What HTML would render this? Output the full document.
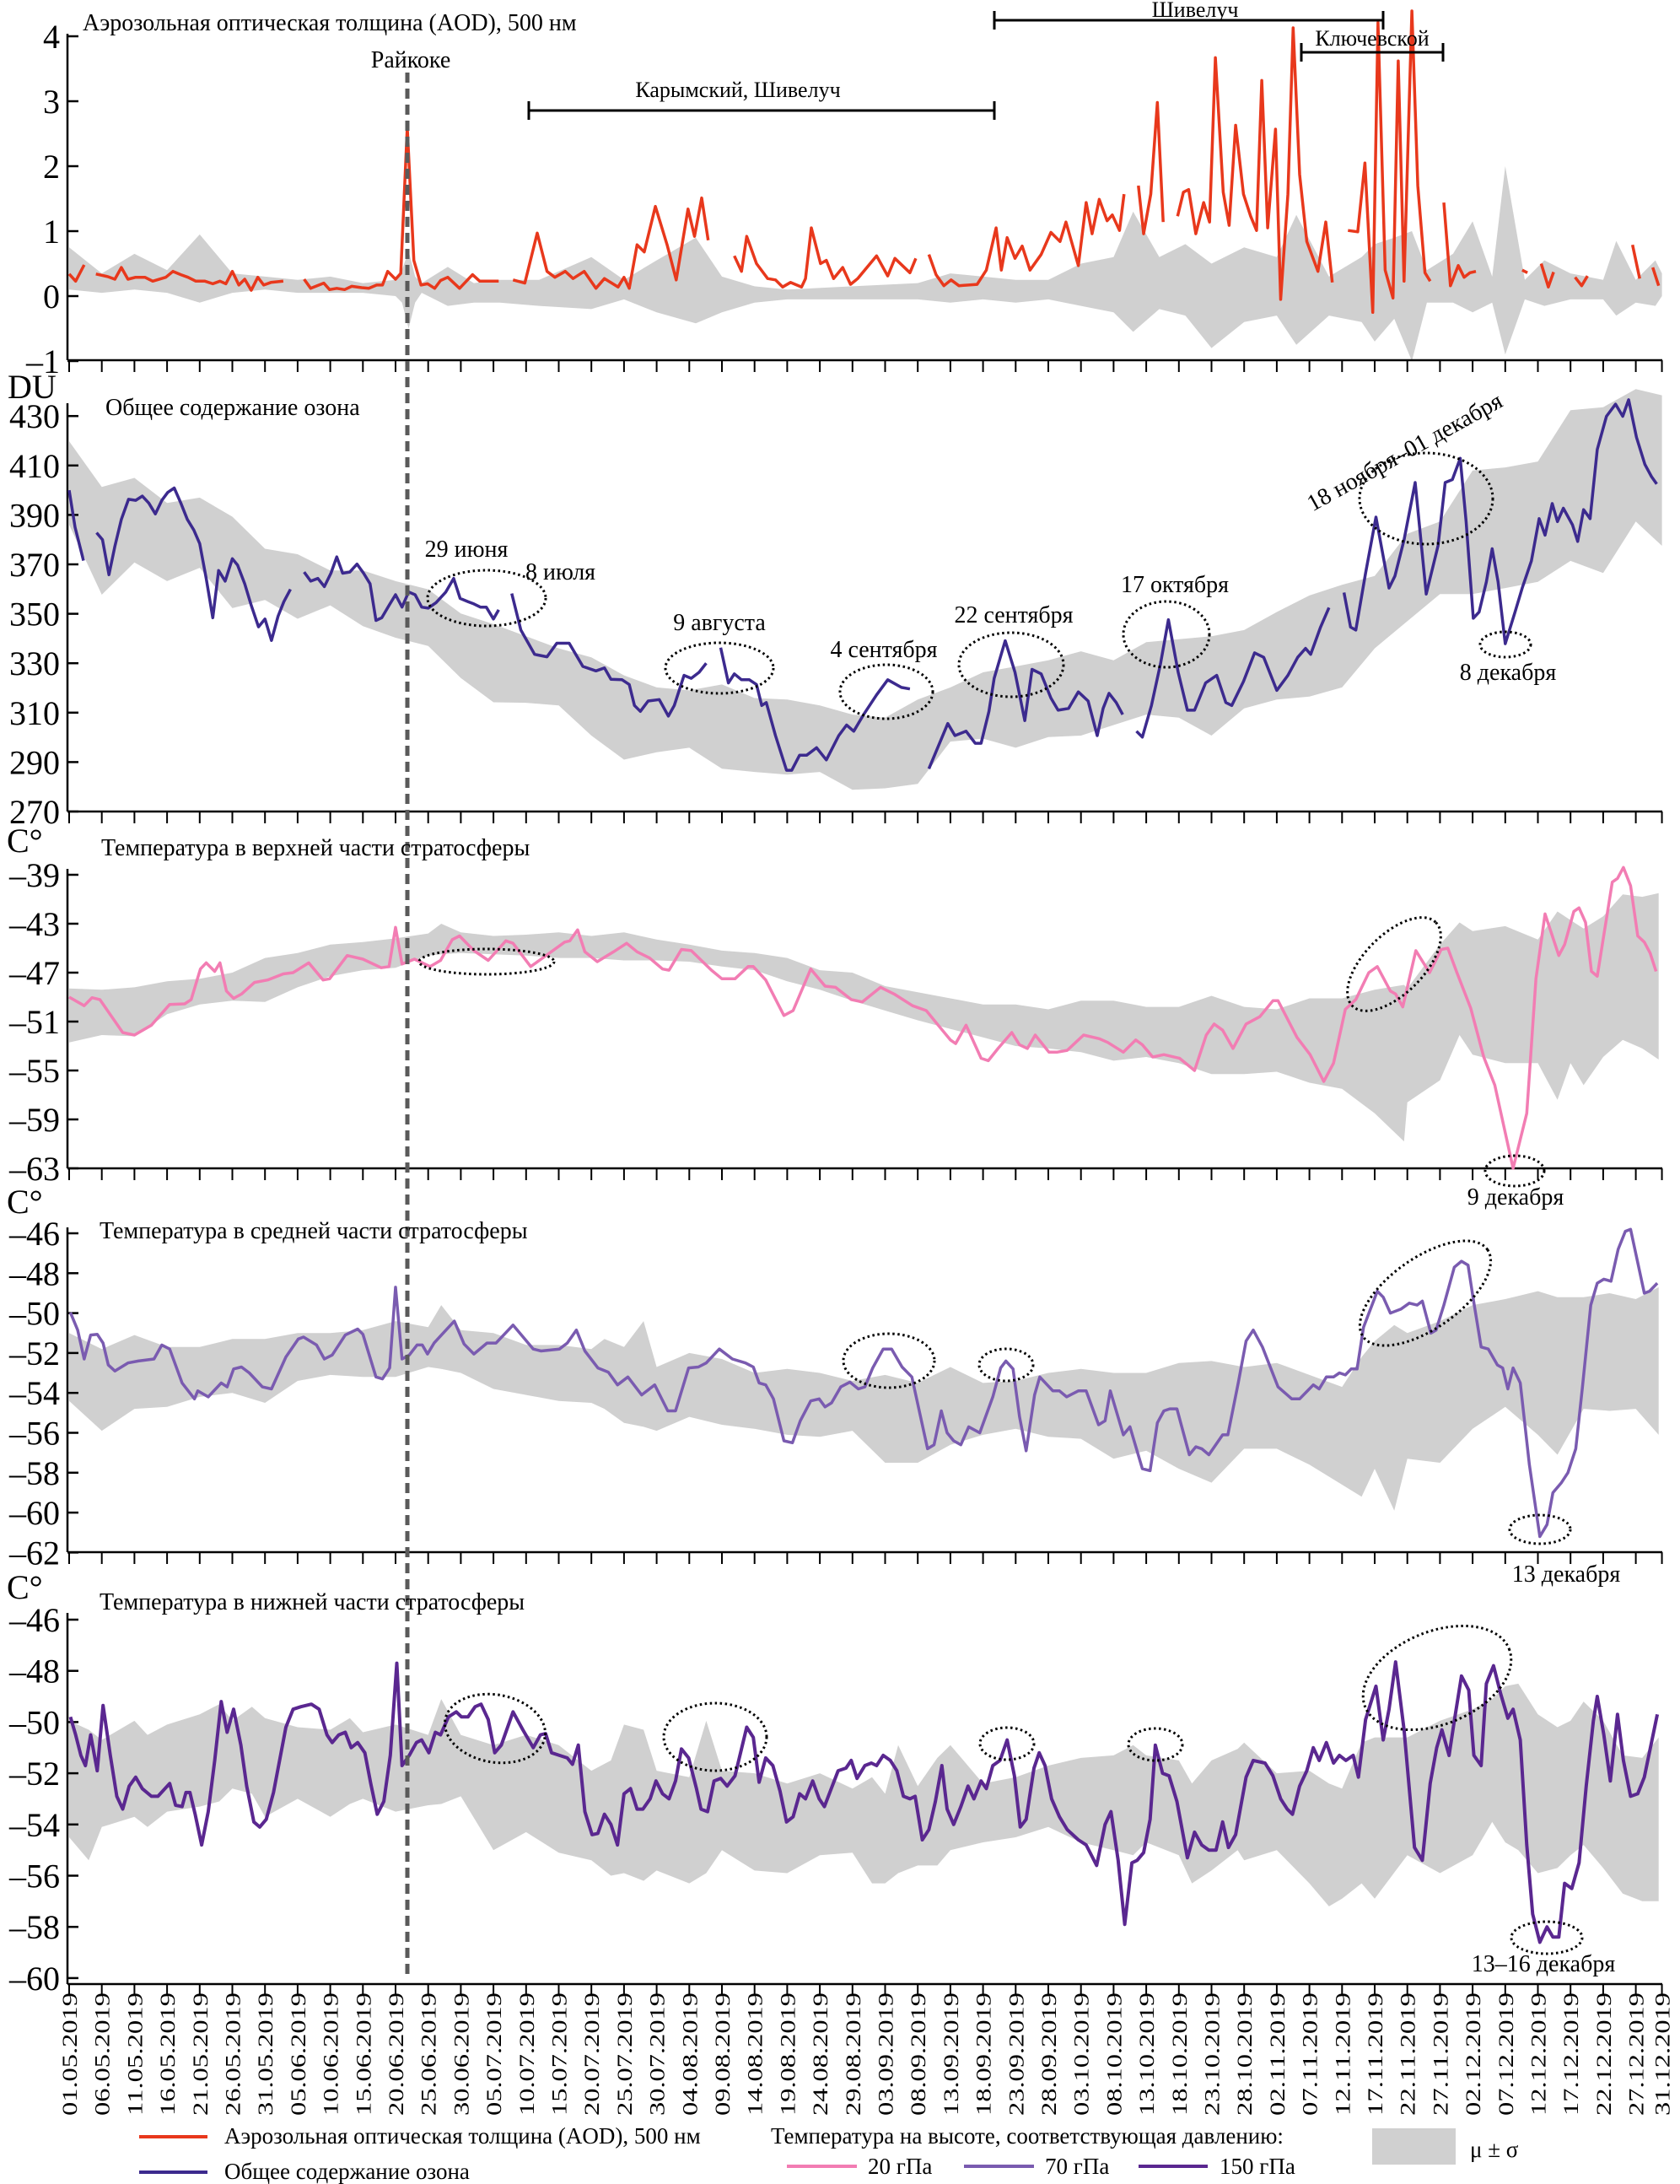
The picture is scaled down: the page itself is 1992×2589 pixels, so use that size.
<!DOCTYPE html>
<html><head><meta charset="utf-8">
<style>
html,body{margin:0;padding:0;background:#fff;}
svg{display:block;font-family:"Liberation Serif","DejaVu Serif",serif;}
</style></head>
<body>
<svg id="chart" width="1992" height="2589" viewBox="0 0 1992 2589" xmlns="http://www.w3.org/2000/svg">
<g id="bands"></g>
<g id="axes"></g>
<g id="series"></g>
<g id="annot"></g>
</svg>
<script>
// ---------- DATA ----------
const aodDays=[0,1,2.3,3,4.1,5.9,7,8,9,10.2,11.6,12.8,14.8,15.9,17.1,18.2,19.4,20.8,22,23.1,24,25,26,26.9,27.9,28.9,29.8,30.9,32.8,34,36,37,39,39.9,41,42.2,43.3,44.8,45.9,47.1,48,48.8,50,50.8,51.8,52.8,53.9,54.9,56,56.9,58,59.8,61.8,62.9,64.4,65.8,67,68,69.8,71.7,73.2,74.4,76,77.2,78.9,80.7,82,84.1,85,85.8,87,88.1,89.8,91.6,93,94.8,95.8,96.9,97.9,99,101.9,103,103.8,105.3,107,108.2,109.3,110.5,112.2,112.8,113.7,115.1,116,117.1,118.5,119.7,120.8,123.7,125.4,126.5,128.8,129.7,130.5,131.7,132.8,134,135.1,136.3,139.1,140.5,142,142.8,143.7,144.9,146,147.2,148.9,150.4,151.8,152.7,154.6,155.8,156.7,157.8,159,159.8,160.9,161.6,162.5,163.8,164.6,165.7,166.7,167.6,168.5,169.8,170.7,171.5,172.6,173.8,174.7,175.6,176.8,177.7,178.7,179.9,181,181.9,182.7,183.6,184.8,185.6,186.7,187.5,188.5,189.6,191.3,192.5,193.5,194.5,195.9,197.4,198.5,199.7,200.5,201.6,202.8,203.6,204.5,205.7,206.6,207.7,208.5,209.5,210.6,211.6,212.8,213.7,214.6,215.5,216.5,222.6,223.4,224.5,225.5,226.6,227.4,228.5,230.7,231.7,232.6,234,239.5,240.6,241.5,242.6,243.5];
const aodValues=[.34,.23,.48,null,.34,.30,.26,.44,.26,.29,.29,.23,.29,.38,.33,.29,.23,.23,.19,.23,.19,.38,.17,.26,.09,.29,.17,.21,.23,null,.26,.12,.2,.1,.12,.1,.15,.13,.12,.17,.17,.38,.26,.35,2.6,.55,.17,.19,.12,.24,.29,.12,.33,.23,.23,.23,null,.25,.2,.97,.38,.29,.38,.27,.38,.12,.27,.14,.29,.12,.79,.68,1.38,.79,.25,1.34,.92,1.51,.86,null,.62,.38,.92,.5,.27,.25,.14,.21,.14,.27,1.05,.5,.55,.27,.44,.18,.27,.62,.31,.58,.36,.58,null,.64,.33,.16,.25,.16,.18,.4,1.05,.4,.9,.58,.77,.4,.64,.98,.84,1.14,.47,1.44,.96,1.49,1.16,1.25,1.01,1.57,null,1.7,.96,1.57,2.98,1.14,null,1.23,1.6,1.64,.96,1.44,1.14,3.67,1.6,1.09,2.63,1.57,1.23,1.01,3.32,1.05,2.57,-.05,1.57,4.13,1.87,.84,.38,1.14,.21,null,1.01,.99,2.05,-.25,4.21,.4,-.03,3.62,.23,4.39,1.7,.36,.23,null,1.44,.16,.47,.29,.36,.38,null,.4,.36,null,.5,.14,.37,null,.29,.16,.31,null,.79,.27,null,.44,.16];
const aodBandDays=[0,5,10,15,20,25,30,35,40,45,50,51,52,53,54,58,62,66,72,80,85,90,96,100,105,110,120,130,135,140,145,150,155,160,163,167,171,175,180,185,188,193,198,200,203,205.7,208,212,215,218,220,223,226,230,235,237,240,243,244];
const aodUpper=[.75,.35,.65,.4,.95,.35,.3,.25,.3,.2,.25,.4,.7,.3,.2,.45,.2,.25,.25,.6,.25,.55,.9,.3,.15,.1,.15,.2,.35,.3,.25,.25,.5,.6,1.3,.6,.8,.5,.75,.6,1.25,.3,.6,.8,.9,1.0,.4,.65,1.15,.3,2.0,.25,.55,.35,.25,.85,.25,.55,.35];
const aodLower=[.1,.05,.1,.05,-.1,.05,.1,.05,.05,.05,0,-.1,-.5,-.1,.05,-.15,-.1,-.1,-.15,-.2,-.05,-.25,-.42,-.25,-.1,-.05,-.05,-.05,-.1,-.05,-.1,-.05,-.15,-.25,-.55,-.2,-.3,-.8,-.4,-.3,-.75,-.3,-.4,-.7,-.35,-1.0,-.1,-.1,-.25,-.1,-.9,-.05,-.15,-.05,-.05,-.3,-.1,-.15,0];

const ozoneDays=[0,0.9,2.2,3,4.2,5.1,6.1,7,8,9.1,10.2,11.2,12.2,13.2,14.2,15.1,16.1,17.1,18.1,19.1,20,21,22,22.9,23.9,25,25.8,26.9,27.9,29,30,31,32,32.9,33.9,35,36,37,38.1,39.1,40.1,41,41.9,43,44.1,45.1,46.1,47,47.9,49,50,51,52,53,54,55,56.2,57.7,58.9,59.9,61.1,62,63,63.9,65,65.8,66.8,67.8,69.2,71.3,73.2,74.7,76.6,78.7,80.7,82,83,84.7,85.8,86.6,87.5,88.7,90.4,91.8,92.7,94.2,95.3,96.5,97.6,98.5,99.8,101,101.9,103,104.2,105.3,106.1,106.8,108.2,109.9,110.7,111.9,113,114.5,116,117.9,119.1,120.2,121.7,123.7,125.4,127.5,128.8,130,131.7,134.6,135.7,137.4,138.8,139.7,140.9,141.7,143.4,144.9,146.4,147.5,148.9,150.4,151.5,153.1,154.6,156.1,157.5,158.4,159.3,160.4,161.4,162.5,163.5,164.4,165.8,167.2,168.4,169.9,171.3,172.4,174.1,175.8,177.2,178.1,179.9,181.6,183,185,186.7,188.2,189.4,190.2,191.7,193,194,195.3,196.3,197.1,198.6,200.2,202.2,203.1,204.5,206.2,207.9,209.7,210.8,211.9,213.1,214,215.1,216,217.1,218,218.9,220,221.5,222.6,224,225.2,226.1,227.2,228,228.9,230.3,231.1,232,233,234.1,235.5,236.9,238,238.9,240.1,241.4,242.4,243.2];
const ozoneValues=[400,385,371.5,null,382.8,380,365.8,377.3,388.2,396.3,395.9,397.6,394.8,390.4,395.9,399.1,400.9,394.8,388.2,383.9,378.4,364.3,348.4,367.5,363.2,372.3,369.7,362.1,353.4,344.7,347.9,339.2,349,354.9,359.9,null,366.9,363.2,364.3,361,366.4,373,366.4,366.9,370.1,366.4,362.1,347.3,348.4,353.4,357.7,352.7,358.8,357.7,352.7,352.3,354.5,358.8,364.3,356.2,354.9,354,352.7,352.7,347.9,351.6,null,358.2,343.4,333.6,332.6,338.1,338.1,328.7,326.9,328.1,323.5,323.3,321.4,312.9,310.5,314.7,315.3,308.6,312.9,325.1,323.9,326.3,330,null,336.3,322,325.7,323.3,323.3,321.4,312.9,314.1,300.7,286.7,286.7,292.8,292.8,295.8,290.9,300.7,305,302.5,309.2,317.2,323.3,320.2,319.6,null,287.3,305.6,300.7,302.5,297.6,297.6,310.5,323.9,339.1,326.3,306.8,327.5,325.7,315.9,311,311.7,318.4,314.7,300.7,311.7,317.8,314.1,309.2,null,302.5,300.1,312.9,329.9,347.6,326.3,311,311,322,325.1,314.1,312.9,322.6,334.2,332.4,319,325.1,332.4,336,333.6,344.6,352.5,null,358.6,344.6,343.4,366.5,389.1,360.4,365.3,379.9,403.1,358,377.5,403.1,404.3,412.9,387.3,348.2,350.7,362.9,376.3,362.9,337.9,350.7,360.4,371.4,388.5,381.8,394.6,387.3,392.7,386,379.3,392.1,388.5,416.5,429.9,434.8,429.9,436.6,421.4,410.4,405.5,402.5];
const ozoneBandDays=[0,5,10,15,20,25,30,35,40,45,50,55,60,65,70,75,80,85,90,95,100,105,110,115,120,125,130,135,140,145,150,155,160,165,170,175,180,185,190,195,200,205,210,215,220,225,230,235,240,244];
const ozoneUpper=[419.8,401.3,405,394.8,397,389.3,376.3,374.1,367.5,367.5,363.2,359.9,350.1,345.8,340.9,336,332.4,325.1,320.2,319,321.4,315.9,315.3,312.9,309.2,308,315.3,320.2,326.3,328.7,331.2,334.8,331.2,338.5,339.7,340.9,343.4,350.7,357.4,361.7,365.3,382.4,387.3,408,409.2,411.6,432.4,433.6,440.9,438.4];
const ozoneLower=[386,357.7,370.8,363.2,368.6,352.3,355.6,348,353.4,345,340.3,337,324,314.2,314,312.9,300.7,291,294,295.8,287.3,286,284.9,286,278.8,279.4,281.2,298.3,299.5,295.8,300.1,300.7,305,309.2,308,300.7,311.7,315.3,316.5,320.2,336,347,358,358,360.4,362.9,371.4,366.5,387.3,377.5];

const t20Days=[0,2.3,3.5,4.7,8.2,10,12.6,15.4,17.7,18.7,20.1,21,22.3,23.1,24.1,25.2,26.4,28.4,30.4,32.8,34.3,36.7,38.9,39.9,42.6,45,47.8,49,50,51,52.9,55.3,56.9,58.7,59.8,62,64.2,66.9,68,70.7,72.3,75.9,76.7,77.9,79,80.9,83.4,85.4,87,88.9,90.9,91.9,93.8,95.3,98.4,100,102,104,104.8,106.7,109.5,110.9,113.6,115.8,117.4,119.8,121.5,124.3,126.4,129.2,131.3,133.3,135,135.8,137.4,139.7,140.8,142.3,144.4,145.6,146.8,148,150.1,151.3,152.9,155.4,157.8,159.1,161.5,163.4,164.4,166,167.7,170.1,172.4,174.2,175.4,176.7,178.3,180.3,182.4,184.4,185.2,188.1,190.1,192.2,193.7,195.5,197.1,199.1,200.4,202.4,203.2,204.3,206.3,208.4,210.2,211.2,212.6,214.7,216.7,218.4,221.2,223.3,224.7,226.1,228.2,229.1,230.5,231.3,232.3,233.2,234.1,236.4,237.2,238.1,239.2,240.3,241.3,242.2,243.1];
const t20Values=[-49,-49.7,-49.05,-49.2,-51.9,-52.1,-51.3,-49.6,-49.55,-49.2,-46.7,-46.2,-46.9,-46.2,-48.5,-49.1,-48.75,-47.8,-47.6,-47.1,-47,-46.2,-47.6,-47.5,-45.6,-45.9,-46.6,-46.5,-43.3,-46.3,-45.9,-46.5,-46,-44.3,-44,-45.2,-46,-44.4,-44.6,-46.5,-45.9,-44.5,-44.4,-43.5,-45.3,-46.1,-45.3,-44.6,-45.3,-45.8,-46.7,-46.8,-45.1,-45.2,-46.8,-47.5,-47.5,-46.5,-46.5,-47.6,-50.5,-50.1,-46.7,-48.1,-48.2,-49.2,-49.4,-48.2,-48.75,-49.7,-50.1,-51.4,-52.5,-52.8,-51.3,-54,-54.2,-53.2,-51.9,-52.9,-53.2,-52.1,-53.5,-53.5,-53.35,-52.1,-52.4,-52.7,-53.5,-52.5,-52.9,-53.9,-53.7,-54,-55,-52.1,-51.2,-51.7,-53.2,-51.2,-50.6,-49.3,-49.3,-52.3,-53.7,-55.9,-54.4,-50,-49.2,-47,-46.5,-48.5,-48.75,-49.8,-45.2,-47,-45.1,-45,-47,-49.9,-53.9,-56.2,-63,-58.5,-47.5,-42.2,-45.6,-44.7,-42,-41.7,-42.9,-46.9,-47.3,-39.6,-39.3,-38.4,-39.9,-44,-44.5,-45.4,-46.9];
const t20BandDays=[0,5,10,15,20,25,30,35,40,45,50,55,57,60,65,70,75,80,85,90,95,100,105,110,115,120,125,130,135,140,145,150,155,160,165,170,175,180,185,190,195,200,204.5,205,210,213,215,220,225,228,230,232,235,238,241,243.5];
const t20Upper=[-48.3,-48.4,-48.2,-47.7,-47.5,-47,-45.8,-45.4,-44.7,-44.5,-44.2,-43.8,-43,-43.7,-44,-43.9,-43.7,-44,-43.7,-44.3,-44.7,-45.2,-45.4,-45.8,-46.8,-47,-48.1,-48.6,-49.1,-49.6,-49.6,-50,-49.3,-49.3,-49.8,-49.8,-48.9,-49.8,-50,-49.1,-49.1,-48.4,-48,-48.3,-44.7,-42.9,-43.6,-43.2,-44.3,-42,-42.7,-43.4,-42.4,-40.6,-40.8,-40.5];
const t20Lower=[-52.7,-52.1,-52.2,-50.4,-49.6,-49.3,-49.4,-48.2,-47.3,-46.8,-46.6,-45.6,-45.5,-45.4,-45.5,-45.6,-45.8,-45.8,-46,-46,-46.1,-46.5,-46.8,-47.7,-48.4,-49.3,-50.1,-50.9,-51.6,-52.3,-53,-53.2,-53.5,-54.2,-53.9,-54.4,-55.3,-55.3,-55.1,-56,-56.5,-58.5,-60.8,-57.6,-55.8,-52.1,-53.7,-54.4,-54.4,-57.4,-54.4,-56.2,-53.9,-52.5,-53.2,-54.1];

const t70Days=[0.2,1.3,2.3,3.3,4.3,5.2,6,7,9,10.6,13,14.2,15.4,17.3,19.2,19.7,21.3,23.3,24.2,25.2,26.4,27.6,29.6,31,33.2,35.1,35.9,37.9,39.1,40.3,42.3,44.2,45,47,48,49.1,50,51,52.1,53.3,54.1,54.9,55.9,57.3,59,60.5,62,64,65.4,68,71.1,72.3,75.1,76.3,77.7,79,81,82.6,84,85.6,87.7,89.7,91.7,92.9,94.9,96.4,97.6,99.6,101.6,103.6,104.8,105.7,106.7,107.9,109.5,110.8,112,113.6,114.9,115.8,116.8,118.2,119.6,120.9,121.9,123.1,124.7,126,127.6,129.1,131.5,132.5,133.6,134.5,135.5,136.6,137.8,139.5,141.5,142.7,143.5,144.6,145.6,146.6,147.9,148.7,150.7,151.7,152.8,154.6,155.8,157.7,158.7,159.5,161.5,162.5,164.4,165.6,166.7,167.7,168.6,169.7,171.6,172.6,173.5,174.6,176.7,177.5,179.1,180.3,181.4,182.8,185.2,187.3,188.5,190.6,191.5,192.6,193.7,194.6,195.5,196.4,197.3,198.3,200.4,201.3,202.4,204,205.3,206.5,207.3,208.6,209.4,210.6,212.2,213.3,214.3,215.1,216.3,217.4,218.8,219.6,220.4,221.2,222.3,223.7,225.3,226.4,227.3,228.6,229.6,230.8,231.8,233.1,234.1,235.1,236.2,237.3,238.4,239.2,241.3,242.1,243.3];
const t70Values=[-49.97,-50.85,-52.3,-51.1,-51.06,-51.5,-52.6,-52.9,-52.5,-52.4,-52.3,-51.6,-51.8,-53.5,-54.3,-53.9,-54.2,-53.5,-53.7,-52.8,-52.7,-53,-53.7,-53.8,-52.2,-51.3,-51.2,-51.6,-52.3,-52.1,-51.1,-50.8,-51.06,-53.2,-53.3,-52.75,-48.7,-52.3,-52.1,-51.6,-51.6,-52.05,-51.5,-51,-50.4,-51.55,-52.05,-51.5,-51.5,-50.6,-51.8,-51.9,-51.8,-51.5,-50.85,-51.9,-52.75,-52.96,-53.6,-53.2,-54.1,-53.6,-54.9,-54.9,-52.75,-52.7,-52.5,-51.8,-52.3,-52.5,-52.7,-53.5,-53.6,-54.3,-56.4,-56.5,-55.4,-54.4,-54.3,-54.7,-54.5,-53.7,-53.46,-53.8,-53.7,-52.75,-51.8,-51.8,-52.7,-53.2,-56.8,-56.6,-54.9,-56,-56.4,-56.6,-55.7,-56,-54.2,-52.75,-52.4,-52.8,-55.2,-56.9,-54.1,-53.2,-53.9,-53.9,-54.2,-53.9,-53.9,-55.6,-55.4,-53.9,-56.1,-55.7,-57.8,-57.9,-55.5,-54.9,-54.8,-54.8,-57.1,-56.7,-56.8,-57.1,-56.1,-56.1,-53.5,-51.4,-50.85,-51.7,-53.7,-54.3,-54.3,-53.6,-53.8,-53.2,-53.2,-53,-53.1,-52.8,-52.8,-50.7,-48.9,-49.2,-50,-49.8,-49.5,-49.6,-49.4,-51,-50.85,-49.6,-47.7,-47.4,-47.6,-49.3,-51.7,-51.8,-52.6,-52.75,-53.8,-52.75,-53.5,-57.6,-61.2,-60.6,-59,-58.5,-58,-56.8,-53.8,-49.6,-48.5,-48.3,-48.4,-46.8,-45.9,-45.8,-49,-48.9,-48.5];
const t70BandDays=[0,5,10,15,20,25,30,35,40,45,50,55,57,60,65,70,75,80,82,85,88,90,95,100,105,110,115,120,125,130,135,140,145,150,155,160,165,170,175,180,185,190,195,198,200,203,205,210,215,220,225,228,232,236,240,243.5];
const t70Upper=[-51,-51.8,-51.1,-51.7,-51.7,-51.3,-51.3,-51,-51,-50.85,-50.4,-50.7,-49.6,-50.85,-51,-51.6,-51.6,-51.8,-51.3,-51.7,-50.4,-52.7,-52,-52.3,-53,-52.8,-53,-53.4,-53.1,-53.5,-52.7,-53.5,-53.4,-53,-52.8,-53,-53,-52.5,-52.4,-52.7,-52.5,-53.1,-53.7,-52.2,-51.4,-50.6,-51,-50.4,-49.6,-49.3,-48.9,-49.2,-49.2,-49,-49.3,-48.7];
const t70Lower=[-54.4,-55.9,-54.8,-54.7,-54.2,-54,-54.5,-53.4,-53.1,-53.2,-53.2,-52.7,-52.8,-53,-53.8,-54.1,-54.4,-54.5,-54.8,-55.5,-55.7,-55.9,-55.2,-55.6,-55.8,-56.1,-56.2,-55.9,-57.5,-57.5,-56.6,-56.1,-55.8,-56.2,-56.3,-57.3,-56.9,-57.8,-58.5,-56.8,-56.8,-57.6,-58.6,-59.2,-57.8,-59.9,-57.3,-57.5,-55.8,-54.7,-56.1,-57.1,-54.8,-54.9,-54.8,-56.1];

const t150Days=[0.2,1,1.8,2.5,3.3,4.3,5.2,6.3,7.3,8.2,9.2,10.2,11.2,12.6,13.6,15.4,16.3,17.3,17.9,18.5,19.3,20.3,21.3,22.3,23.3,24.2,25.2,26.3,27.2,28.3,29.2,30.2,31.3,33.2,34.3,35.5,37.1,38.3,39.5,40.3,41.3,42.3,43.2,44.2,45.3,46.2,47.2,48.2,49.2,50.2,51,52.1,53.2,54,55.1,56.1,56.9,58.1,59.3,60.1,61.1,62.2,63.1,64.2,65.2,66.2,68,69.5,71.1,72.2,73,73.9,75.1,76.3,77.1,78,79,80.1,81,82,83,84,85,86,87,87.9,89,89.9,90.9,91.9,92.9,93.8,94.9,96.1,96.8,97.8,98.8,99.8,100.8,102,103.8,104.8,105.7,106.7,107.8,108.9,109.9,110.9,111.9,112.8,113.9,114.9,115.7,116.6,117.8,119,119.8,120.7,121.9,122.9,123.7,124.7,125.8,126.8,127.8,128.8,129.6,130.7,131.7,132.7,133.7,134.5,135.5,136.6,137.7,138.6,139.7,140.5,141.5,142.6,143.7,144.8,145.7,146.6,147.8,148.6,149.5,150.5,151.7,152.9,154.6,155.8,157.4,158.7,159.6,160.7,161.7,162.8,163.6,164.6,165.6,166.4,167.5,168.5,169.7,171.3,172.4,173.5,174.6,175.7,176.7,177.6,178.7,180.3,181.4,183.2,184.4,185.6,186.6,187.4,188.5,189.6,190.6,191.5,192.6,193.7,194.6,195.6,196.7,197.5,198.6,200.2,201.3,202.2,203.2,204.5,206.1,207.3,208.5,209.5,210.3,211.4,212.2,213.3,214.4,215.2,216.3,217.1,218.2,219.3,220.4,221.2,222.3,223.3,224.2,225.3,226.4,227.3,228.2,229.1,230.2,231.3,232.4,233.5,234.1,235.1,236.1,237.2,238.1,239.2,240.3,241.3,242.2,243.3];
const t150Values=[-49.8,-50.5,-51.3,-51.7,-50.5,-51.9,-49.35,-51.3,-52.9,-53.4,-52.5,-52.15,-52.6,-52.9,-52.9,-52.4,-53.25,-53.3,-52.75,-52.75,-53.6,-54.8,-53.5,-51.5,-49.2,-50.4,-49.5,-50.9,-52.5,-53.9,-54.1,-53.8,-52.75,-50.2,-49.5,-49.4,-49.3,-49.5,-50.5,-50.8,-50.5,-50.4,-51,-50.8,-51.2,-52.4,-53.6,-53.1,-51.3,-47.7,-51.7,-51.3,-50.8,-50.7,-51.2,-50.4,-50.5,-49.8,-49.6,-49.8,-49.8,-49.4,-49.3,-49.9,-51.2,-50.9,-49.6,-50.3,-51,-50.5,-50.45,-51.2,-51.3,-51.4,-51.65,-50.9,-53.5,-54.4,-54.35,-53.6,-54,-54.8,-52.8,-52.6,-53.4,-53.4,-53,-52.3,-52.8,-53,-52.3,-51.05,-51.4,-52.6,-53.4,-53.5,-52.3,-52.2,-52.5,-52.1,-50.2,-50.6,-52.35,-51.4,-51.7,-52.7,-53.9,-53.7,-52.8,-53,-52.3,-53,-53.3,-52.7,-51.9,-51.8,-51.5,-52.2,-51.7,-51.6,-51.7,-51.3,-51.5,-51.9,-52.9,-53,-52.9,-54.6,-54.2,-53.1,-51.7,-53.4,-54,-53.3,-52.5,-53,-52.3,-52.6,-51.7,-51.5,-50.7,-52.1,-54.1,-53.8,-51.8,-51.2,-51.7,-53,-53.7,-54.2,-54.6,-54.8,-55.6,-54,-53.5,-55.4,-57.9,-55.5,-55.4,-55.1,-53.8,-50.9,-52,-52.1,-53.1,-55.3,-54.3,-54.8,-55,-55,-53.9,-54.9,-54.4,-52.15,-51.5,-51.6,-52.1,-53,-53.4,-53.6,-52.5,-51.9,-51,-51.5,-50.8,-51.6,-51.3,-51.5,-51.3,-52.15,-49.9,-48.6,-50.7,-49.5,-47.65,-50.3,-54.9,-55.4,-52.4,-51,-50.3,-51.3,-49.95,-48.2,-48.75,-51.3,-51.7,-48.5,-47.8,-48.9,-49.85,-49.5,-50.7,-54.8,-57.5,-58.6,-58,-58.4,-58.4,-56.3,-56.5,-55.5,-52.5,-49.95,-49,-50.5,-52.3,-49.7,-51.5,-52.9,-52.8,-52.15,-51.05,-49.7];
const t150BandDays=[0,3,5,10,12,15,20,23,25,28,30,35,40,43,45,50,55,57,60,65,70,75,80,83,85,88,90,95,97.6,100,105,110,115,120,123,125,127,130,133,135,140,145,150,155,160,163,165,170,172,175,179,180,185,190,193,195,198,200,205,210,215,218,220,222,225,228,230,232,235,238,241,243.5];
const t150Upper=[-49.95,-50.3,-50.7,-49.95,-50.5,-50.1,-49.7,-49.3,-49.95,-49.4,-49.85,-50.2,-50.3,-49.85,-50.4,-50.1,-50.5,-49.1,-50.5,-50.9,-50.5,-50.9,-51.9,-51.5,-50.1,-50.3,-51.9,-52.15,-49.95,-51.9,-52,-52.4,-52,-52.6,-52.15,-52.8,-50.9,-52.5,-51.4,-50.9,-52.4,-52.15,-51.7,-51.4,-51.3,-50.9,-51.3,-51.5,-52.4,-51.5,-51.05,-50.8,-52,-51.9,-52.4,-52.6,-50.8,-50.6,-50.6,-49.95,-49.5,-49.1,-48.6,-48.5,-49.7,-50.2,-49.95,-49.2,-49.95,-51.3,-51.4,-50.6];
const t150Lower=[-54.5,-55.4,-54.1,-53.7,-54.1,-53.5,-53.3,-53.1,-52.6,-52.8,-53.7,-53,-53.7,-53.2,-53,-53.5,-53.25,-53.2,-52.9,-55,-54.3,-55.1,-55.4,-56,-55.9,-56.2,-55.8,-56.3,-55.9,-55,-55.8,-55.9,-55.2,-55.1,-56.3,-56.3,-55.9,-55.6,-55.6,-55,-54.7,-54.5,-54.1,-54.7,-55,-55.2,-54.7,-55.2,-56.3,-55.8,-55,-55.4,-55,-56.3,-57.2,-56.9,-56.3,-56.9,-55.2,-55.9,-55.2,-53.9,-54.7,-55,-55.9,-55.7,-55.2,-54.8,-55.7,-56.7,-57,-57];

const aodTicks=[4,3,2,1,0,-1];
const ozoneTicks=[430,410,390,370,350,330,310,290,270];
const t20Ticks=[-39,-43,-47,-51,-55,-59,-63];
const t70Ticks=[-46,-48,-50,-52,-54,-56,-58,-60,-62];
const t150Ticks=[-46,-48,-50,-52,-54,-56,-58,-60];
const dateTickDays=[0,5,10,15,20,25,30,35,40,45,50,55,60,65,70,75,80,85,90,95,100,105,110,115,120,125,130,135,140,145,150,155,160,165,170,175,180,185,190,195,200,205,210,215,220,225,230,235,240,244];

// ---------- SCALES ----------
const NS="http://www.w3.org/2000/svg";
const X0=82, DX=7.74, AX=80, XEND=1971;
const xS=d=>X0+d*DX;
const panels=[
 {name:"aod",top:40,bottom:427,y:v=>351-77*v,ticks:aodTicks},
 {name:"ozone",top:478,bottom:962,y:v=>962-(v-270)*2.93,ticks:ozoneTicks},
 {name:"t20",top:1030,bottom:1385,y:v=>1037+(-39-v)*14.5,ticks:t20Ticks},
 {name:"t70",top:1455,bottom:1840,y:v=>1462+(-46-v)*23.65,ticks:t70Ticks},
 {name:"t150",top:1912,bottom:2352,y:v=>1920+(-46-v)*30.35,ticks:t150Ticks}
];
function el(tag,attrs,parent,text){const e=document.createElementNS(NS,tag);for(const k in attrs)e.setAttribute(k,attrs[k]);if(text!==undefined)e.textContent=text;parent.appendChild(e);return e;}
const gB=document.getElementById('bands'),gA=document.getElementById('axes'),gS=document.getElementById('series'),gN=document.getElementById('annot');

function band(days,up,lo,yf,name){
 let d="M"+days.map((t,i)=>xS(t).toFixed(1)+","+yf(up[i]).toFixed(1)).join("L");
 for(let i=days.length-1;i>=0;i--)d+="L"+xS(days[i]).toFixed(1)+","+yf(lo[i]).toFixed(1);
 const p=el('path',{d:d+"Z",fill:"#d0d0d0",stroke:"none"},gB);
 
 
}
function line(days,vals,yf,color,w,name){
 let d="",pen=false;
 days.forEach((t,i)=>{const v=vals[i];if(v===null||v===undefined){pen=false;return;}d+=(pen?"L":"M")+xS(t).toFixed(1)+","+yf(v).toFixed(1);pen=true;});
 const p=el('path',{d:d,fill:"none",stroke:color,"stroke-width":w,"stroke-linejoin":"round"},gS);
 
 
}
band(aodBandDays,aodUpper,aodLower,panels[0].y,'aod-band');
band(ozoneBandDays,ozoneUpper,ozoneLower,panels[1].y,'ozone-band');
band(t20BandDays,t20Upper,t20Lower,panels[2].y,'t20-band');
band(t70BandDays,t70Upper,t70Lower,panels[3].y,'t70-band');
band(t150BandDays,t150Upper,t150Lower,panels[4].y,'t150-band');
line(aodDays,aodValues,panels[0].y,"#e8381c",3.5,'aod-line');
line(ozoneDays,ozoneValues,panels[1].y,"#3c2a8e",3.5,'ozone-line');
line(t20Days,t20Values,panels[2].y,"#f27db3",3.5,'t20-line');
line(t70Days,t70Values,panels[3].y,"#7a5bb0",3.5,'t70-line');
line(t150Days,t150Values,panels[4].y,"#5a2790",4,'t150-line');

// axes
panels.forEach(P=>{
 const a=el('line',{x1:AX,y1:P.top,x2:AX,y2:P.bottom,stroke:"#000","stroke-width":2.5},gA);
 
 
 const b=el('line',{x1:AX,y1:P.bottom,x2:XEND,y2:P.bottom,stroke:"#000","stroke-width":2.5},gA);
 
 
 dateTickDays.forEach(d=>{const t=el('line',{x1:xS(d),y1:P.bottom,x2:xS(d),y2:P.bottom+14,stroke:"#000","stroke-width":2},gA);
  
  });
 P.ticks.forEach(v=>{const y=P.y(v);
  const t=el('line',{x1:AX,y1:y,x2:AX+13,y2:y,stroke:"#000","stroke-width":2.5},gA);
  
  
  const lb=el('text',{x:71,y:y+14,"text-anchor":"end","font-size":40},gA,(v<0?"–":"")+Math.abs(v));
  
  });
});
// date labels
const dateLabels=dateTickDays.map(d=>{const dt=new Date(Date.UTC(2019,4,1+d));const p=n=>String(n).padStart(2,'0');return p(dt.getUTCDate())+"."+p(dt.getUTCMonth()+1)+".2019";});
dateTickDays.forEach((d,i)=>{const x=xS(d)+9;
 const t=el('text',{x:0,y:0,transform:`translate(${x},2362) rotate(-90)`,"text-anchor":"end","font-size":25,textLength:146,lengthAdjust:"spacingAndGlyphs"},gA,dateLabels[i]);
 
 });
</script>
<script>
(function(){
const NS="http://www.w3.org/2000/svg";const g=document.getElementById('annot');
function T(x,y,s,txt,name,anchor,extra){const e=document.createElementNS(NS,'text');e.setAttribute('x',x);e.setAttribute('y',y);e.setAttribute('font-size',s);e.setAttribute('text-anchor',anchor||'start');if(extra)for(const k in extra)e.setAttribute(k,extra[k]);e.textContent=txt;
 
 
 g.appendChild(e);}
function E(cx,cy,rx,ry,rot,name){const e=document.createElementNS(NS,'ellipse');e.setAttribute('cx',cx);e.setAttribute('cy',cy);e.setAttribute('rx',rx);e.setAttribute('ry',ry);e.setAttribute('fill','none');e.setAttribute('stroke','#000');e.setAttribute('stroke-width','3');e.setAttribute('stroke-dasharray','2.5 3.5');if(rot)e.setAttribute('transform',`rotate(${rot} ${cx} ${cy})`);
 
 
 g.appendChild(e);}
function L(x1,y1,x2,y2,w,c,dash,name){const e=document.createElementNS(NS,'line');e.setAttribute('x1',x1);e.setAttribute('y1',y1);e.setAttribute('x2',x2);e.setAttribute('y2',y2);e.setAttribute('stroke',c);e.setAttribute('stroke-width',w);if(dash)e.setAttribute('stroke-dasharray',dash);
 
 
 g.appendChild(e);}
// Raikoke dashed line
L(483,86,483,2344,5,'#5a5a5a','12 7','raikoke-line');
T(487,80,28,'Райкоке','raikoke-label','middle');
// panel titles & units
T(98,36,28,'Аэрозольная оптическая толщина (AOD), 500 нм','aod-title');
T(9,472,40,'DU','ozone-unit');
T(125,492,28,'Общее содержание озона','ozone-title');
T(8,1010,40,'C°','t20-unit');
T(120,1014,28,'Температура в верхней части стратосферы','t20-title');
T(8,1438,40,'C°','t70-unit');
T(118,1468,28,'Температура в средней части стратосферы','t70-title');
T(8,1895,40,'C°','t150-unit');
T(118,1908,28,'Температура в нижней части стратосферы','t150-title');
// volcano brackets
L(627,131,1179,131,3,'#000',null,'karymsky-bracket');L(627,120,627,142,3,'#000',null,'bracket-end');L(1179,120,1179,142,3,'#000',null,'bracket-end');
T(875,115,26,'Карымский, Шивелуч','karymsky-label','middle');
L(1179,24,1640,24,3,'#000',null,'shiveluch-bracket');L(1179,13,1179,35,3,'#000',null,'bracket-end');L(1640,13,1640,35,3,'#000',null,'bracket-end');
T(1417,20,26,'Шивелуч','shiveluch-label','middle');
L(1543,62,1711,62,3,'#000',null,'klyuchevskoy-bracket');L(1543,51,1543,73,3,'#000',null,'bracket-end');L(1711,51,1711,73,3,'#000',null,'bracket-end');
T(1627,54,26,'Ключевской','klyuchevskoy-label','middle');
// ozone annotations
T(553,660,28,'29 июня','ann-29-june','middle');E(577,709,70,33,0,'ellipse-29-june');
T(623,687,28,'8 июля','ann-8-july');
T(853,747,28,'9 августа','ann-9-aug','middle');E(853,792,64,30,0,'ellipse-9-aug');
T(1048,779,28,'4 сентября','ann-4-sep','middle');E(1051,820,55,32,0,'ellipse-4-sep');
T(1202,738,28,'22 сентября','ann-22-sep','middle');E(1199,788,62,38,0,'ellipse-22-sep');
T(1393,702,28,'17 октября','ann-17-oct','middle');E(1383,752,51,39,0,'ellipse-17-oct');
T(1665,545,28,'18 ноября–01 декабря','ann-18nov-1dec','middle',{transform:'rotate(-29 1665 535)'});E(1691,591,79,54,0,'ellipse-18nov');
T(1788,806,28,'8 декабря','ann-8-dec','middle');E(1785,764,30,15,0,'ellipse-8-dec');
// t20 annotations
E(577,1140,80,15,0,'ellipse-t20-june');
E(1653,1143,70,35,-45,'ellipse-t20-nov');
E(1796,1388,35,18,0,'ellipse-9-dec');T(1797,1428,28,'9 декабря','ann-9-dec','middle');
// t70 annotations
E(1054,1613,54,32,0,'ellipse-t70-sep');E(1193,1618,32,19,0,'ellipse-t70-sep2');
E(1690,1533,90,42,-35,'ellipse-t70-nov');E(1826,1813,36,17,0,'ellipse-13-dec');
T(1857,1875,28,'13 декабря','ann-13-dec','middle');
// t150 annotations
E(587,2049,60,40,10,'ellipse-t150-july');E(848,2059,61,40,0,'ellipse-t150-aug');
E(1194,2067,32,19,0,'ellipse-t150-sep');E(1370,2068,32,19,0,'ellipse-t150-oct');
E(1704,1989,92,55,-22,'ellipse-t150-nov');E(1834,2297,42,19,0,'ellipse-13-16-dec');
T(1830,2337,28,'13–16 декабря','ann-13-16-dec','middle');
// legend
L(165,2533,246,2533,4,'#e8381c',null,'legend-aod-swatch');
T(266,2541,27,'Аэрозольная оптическая толщина (AOD), 500 нм','legend-aod');
L(165,2575,246,2575,4,'#3c2a8e',null,'legend-ozone-swatch');
T(266,2583,27,'Общее содержание озона','legend-ozone');
T(914,2541,27,'Температура на высоте, соответствующая давлению:','legend-temp-title');
L(933,2568,1016,2568,4,'#f27db3',null,'legend-20-swatch');T(1029,2577,27,'20 гПа','legend-20hpa');
L(1143,2568,1226,2568,4,'#7a5bb0',null,'legend-70-swatch');T(1239,2577,27,'70 гПа','legend-70hpa');
L(1350,2568,1432,2568,4,'#5a2790',null,'legend-150-swatch');T(1446,2577,27,'150 гПа','legend-150hpa');
const r=document.createElementNS(NS,'rect');r.setAttribute('x',1627);r.setAttribute('y',2523);r.setAttribute('width',99);r.setAttribute('height',43);r.setAttribute('fill','#d0d0d0');


g.appendChild(r);
T(1743,2557,27,'μ ± σ','legend-band');
})();
</script>
</body></html>
